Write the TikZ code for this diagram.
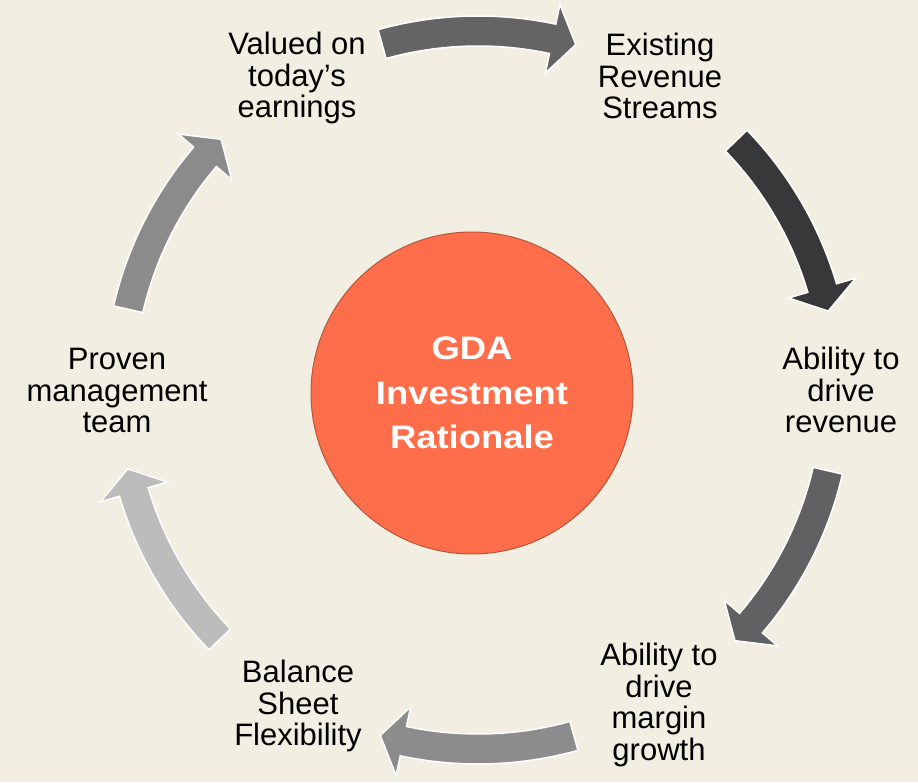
\documentclass[tikz,border=0pt]{standalone}
\usepackage{fontspec}
\setmainfont{Liberation Sans}
\newfontfamily\hubfont[FakeStretch=1.12]{Liberation Sans}

\definecolor{bgcol}{HTML}{F2EEE2}
\definecolor{arrA}{HTML}{646464}
\definecolor{arrB}{HTML}{38383A}
\definecolor{arrC}{HTML}{616163}
\definecolor{arrD}{HTML}{8C8C8C}
\definecolor{arrE}{HTML}{BCBCBC}
\definecolor{arrF}{HTML}{8B8B8B}
\definecolor{hub}{HTML}{FF6E4A}
\definecolor{hubline}{HTML}{B5573D}

% curved block arrow on the ring, running clockwise around the given mid angle
\newcommand\ringarrow[2]{%
  \filldraw[fill=#2, draw=white, line width=1.5pt, shift={(478,392)}]
    ({#1+15.5}:374pt) arc[start angle={#1+15.5}, end angle={#1-12}, radius=374pt]
    -- ({#1-12}:394pt) -- ({#1-15.8}:359pt) -- ({#1-12}:324pt) -- ({#1-12}:344pt)
    arc[start angle={#1-12}, end angle={#1+15.5}, radius=344pt] -- cycle;}

\tikzset{
  label/.style={anchor=north, align=center, inner sep=0pt, text=black,
    font=\fontsize{31}{31.5}\selectfont},
}

\begin{document}
\begin{tikzpicture}[x=1pt, y=1pt]
  \useasboundingbox (0,0) rectangle (918,782);
  \fill[bgcol] (0,0) rectangle (918,782);

  % ring of arrows
  \ringarrow{90}{arrA}
  \ringarrow{28.5}{arrB}
  \ringarrow{-28.5}{arrC}
  \ringarrow{-90}{arrD}
  \ringarrow{-151.5}{arrE}
  \ringarrow{151.5}{arrF}

  % central circle
  \node[circle, fill=hub, draw=hubline, line width=1pt, minimum size=322pt,
        inner sep=0pt, align=center, text=white,
        font=\hubfont\bfseries\fontsize{32.5}{44.5}\selectfont]
    (hubnode) at (472,389) {GDA\\Investment\\Rationale};

  % labels
  \node[label] (valued)   at (297,750) {Valued on\\today’s\\earnings};
  \node[label] (existing) at (660,749) {Existing\\Revenue\\Streams};
  \node[label] (revenue)  at (841,435) {Ability to\\drive\\revenue};
  \node[label] (margin)   at (659,139) {Ability to\\drive\\margin\\growth};
  \node[label] (balance)  at (298,122) {Balance\\Sheet\\Flexibility};
  \node[label] (proven)   at (117,434) {Proven\\management\\team};
\end{tikzpicture}
\end{document}
